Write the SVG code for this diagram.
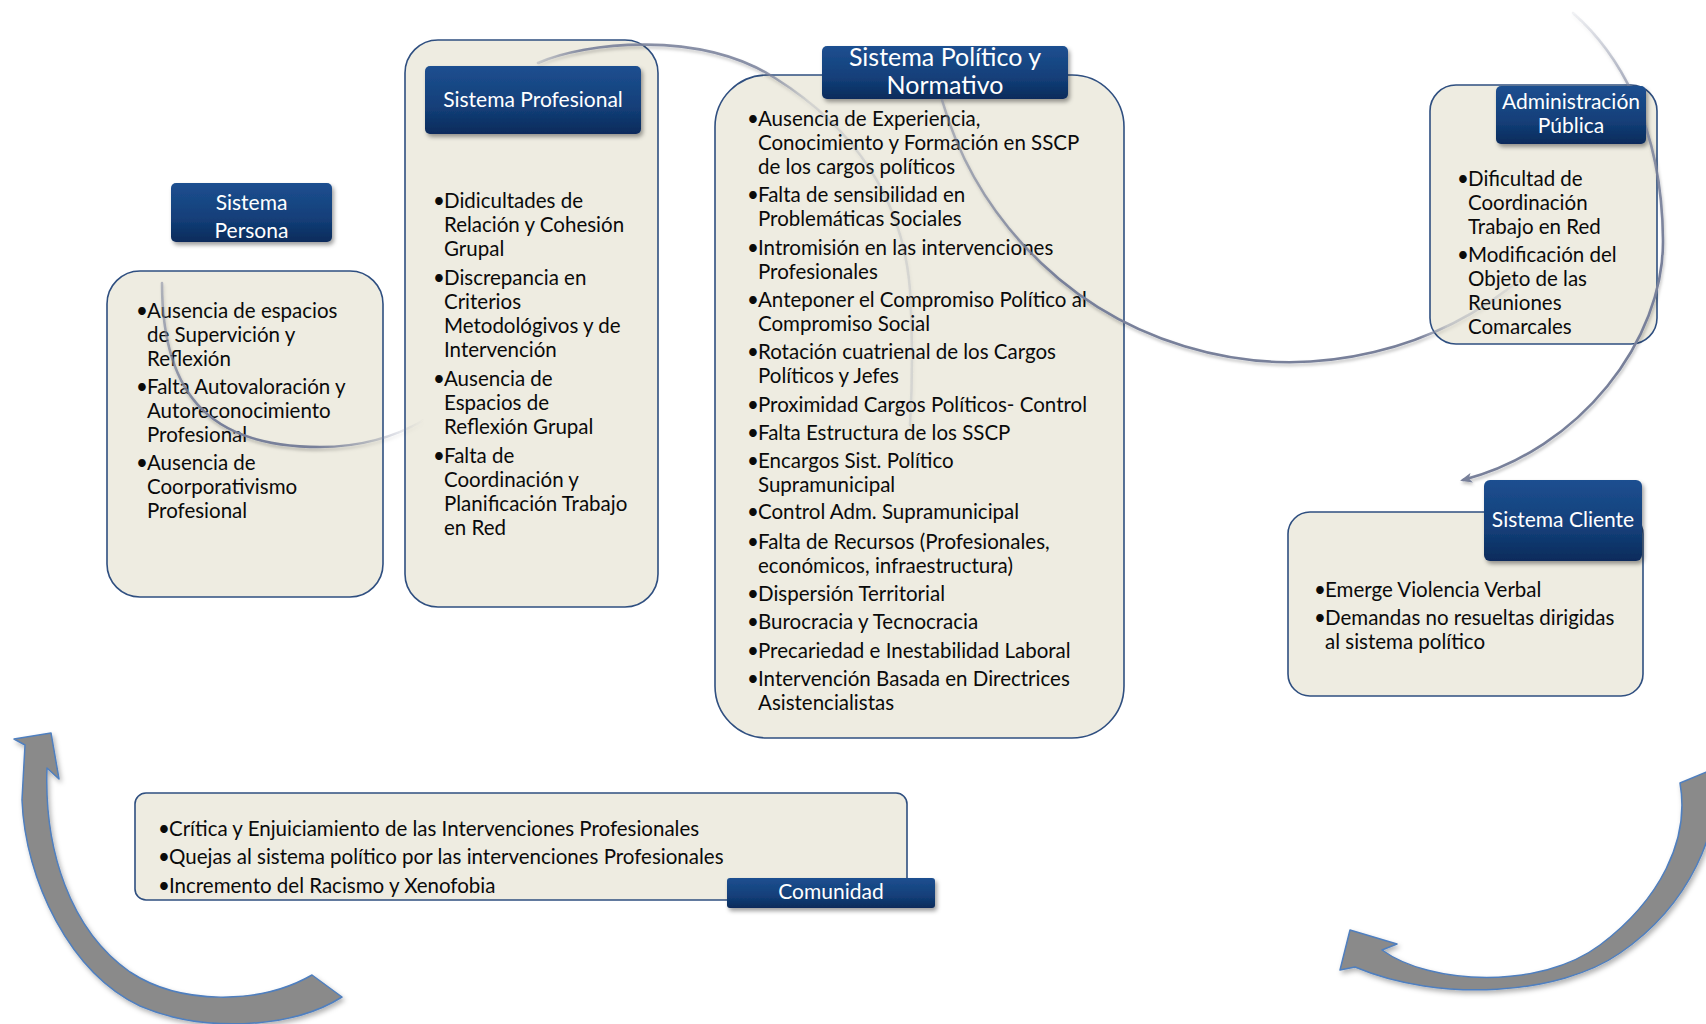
<svg xmlns="http://www.w3.org/2000/svg" width="1706" height="1024" viewBox="0 0 1706 1024">
  <defs>
    <linearGradient id="hdrGrad" x1="0" y1="0" x2="0" y2="1">
      <stop offset="0" stop-color="#1d4f90"/>
      <stop offset="0.6" stop-color="#133f79"/>
      <stop offset="1" stop-color="#0b2b5b"/>
    </linearGradient>
    <filter id="hdrShadow" x="-10%" y="-20%" width="125%" height="150%">
      <feDropShadow dx="2" dy="3" stdDeviation="2.2" flood-color="#000" flood-opacity="0.38"/>
    </filter>
    <filter id="lineShadow" x="-10%" y="-10%" width="120%" height="125%">
      <feDropShadow dx="1" dy="2.5" stdDeviation="1.6" flood-color="#000" flood-opacity="0.25"/>
    </filter>
    <filter id="blockShadow" x="-10%" y="-10%" width="125%" height="125%">
      <feDropShadow dx="2" dy="3" stdDeviation="2.5" flood-color="#000" flood-opacity="0.3"/>
    </filter>
    <!-- fading strokes for the thin curved links -->
    <linearGradient id="fadeA" gradientUnits="userSpaceOnUse" x1="162" y1="283" x2="424" y2="420">
      <stop offset="0" stop-color="#78809a" stop-opacity="0.5"/>
      <stop offset="0.35" stop-color="#78809a" stop-opacity="1"/>
      <stop offset="0.72" stop-color="#78809a" stop-opacity="1"/>
      <stop offset="1" stop-color="#78809a" stop-opacity="0"/>
    </linearGradient>
    <linearGradient id="fadeB" gradientUnits="userSpaceOnUse" x1="538" y1="0" x2="914" y2="0">
      <stop offset="0" stop-color="#78809a" stop-opacity="0.3"/>
      <stop offset="0.12" stop-color="#78809a" stop-opacity="0.9"/>
      <stop offset="0.6" stop-color="#78809a" stop-opacity="0.85"/>
      <stop offset="0.72" stop-color="#78809a" stop-opacity="0.2"/>
      <stop offset="1" stop-color="#78809a" stop-opacity="0.18"/>
    </linearGradient>
    <linearGradient id="fadeC" gradientUnits="userSpaceOnUse" x1="942" y1="0" x2="1523" y2="0">
      <stop offset="0" stop-color="#78809a" stop-opacity="0.5"/>
      <stop offset="0.2" stop-color="#78809a" stop-opacity="1"/>
      <stop offset="0.82" stop-color="#78809a" stop-opacity="1"/>
      <stop offset="0.87" stop-color="#78809a" stop-opacity="0.35"/>
      <stop offset="1" stop-color="#78809a" stop-opacity="0.1"/>
    </linearGradient>
    <linearGradient id="fadeD" gradientUnits="userSpaceOnUse" x1="0" y1="13" x2="0" y2="480">
      <stop offset="0" stop-color="#78809a" stop-opacity="0.1"/>
      <stop offset="0.2" stop-color="#78809a" stop-opacity="0.75"/>
      <stop offset="0.5" stop-color="#78809a" stop-opacity="1"/>
      <stop offset="1" stop-color="#78809a" stop-opacity="1"/>
    </linearGradient>
    <marker id="smallHead" viewBox="0 0 12 10" refX="9" refY="5" markerWidth="12" markerHeight="10" markerUnits="userSpaceOnUse" orient="auto">
      <path d="M0,0 L12,5 L0,10 L3,5 Z" fill="#78809a"/>
    </marker>
    <!-- keeps the right-hand link behind the Administración header -->
    <mask id="behindAdm" maskUnits="userSpaceOnUse" x="0" y="0" width="1706" height="1024">
      <rect x="0" y="0" width="1706" height="1024" fill="#fff"/>
      <rect x="1496" y="86" width="150" height="58" rx="5" fill="#000"/>
    </mask>
  </defs>
  <style>
    .box { fill: #eeece1; stroke: #2f4f80; stroke-width: 1.6; }
    .hdr { fill: url(#hdrGrad); filter: url(#hdrShadow); }
    .t { font-family: Lato, "Noto Sans", "Liberation Sans", sans-serif; font-size: 20.5px; fill: #0a0a0a; }
    .ht { font-family: Lato, "Noto Sans", "Liberation Sans", sans-serif; font-size: 21px; fill: #ffffff; text-anchor: middle; }
    .big { font-size: 25px; }
    .curve { fill: none; stroke-width: 2.6; stroke-linecap: round; filter: url(#lineShadow); }
    .block { fill: #8a8a8a; stroke: #4f7fbf; stroke-width: 1.5; stroke-linejoin: round; filter: url(#blockShadow); }
  </style>

  <rect x="0" y="0" width="1706" height="1024" fill="#ffffff"/>

  <!-- Sistema Persona -->
  <g id="sistema-persona">
    <rect class="box" x="107" y="271" width="276" height="326" rx="33"/>
    <text class="t" x="136" y="318">•</text>
    <text class="t" x="147" y="318">Ausencia de espacios</text>
    <text class="t" x="147" y="342">de Supervición y</text>
    <text class="t" x="147" y="366">Reflexión</text>
    <text class="t" x="136" y="394">•</text>
    <text class="t" x="147" y="394">Falta Autovaloración y</text>
    <text class="t" x="147" y="418">Autoreconocimiento</text>
    <text class="t" x="147" y="442">Profesional</text>
    <text class="t" x="136" y="470">•</text>
    <text class="t" x="147" y="470">Ausencia de</text>
    <text class="t" x="147" y="494">Coorporativismo</text>
    <text class="t" x="147" y="518">Profesional</text>
    <rect class="hdr" x="171" y="183" width="161" height="59" rx="5"/>
    <text class="ht" x="251.5" y="210">Sistema</text>
    <text class="ht" x="251.5" y="238">Persona</text>
  </g>

  <!-- Sistema Profesional -->
  <g id="sistema-profesional">
    <rect class="box" x="405" y="40" width="253" height="567" rx="33"/>
    <rect class="hdr" x="425" y="66" width="216" height="68" rx="5"/>
    <text class="ht" x="533" y="107">Sistema Profesional</text>
    <text class="t" x="433" y="208">•</text>
    <text class="t" x="444" y="208">Didicultades de</text>
    <text class="t" x="444" y="232">Relación y Cohesión</text>
    <text class="t" x="444" y="256">Grupal</text>
    <text class="t" x="433" y="285">•</text>
    <text class="t" x="444" y="285">Discrepancia en</text>
    <text class="t" x="444" y="309">Criterios</text>
    <text class="t" x="444" y="333">Metodológivos y de</text>
    <text class="t" x="444" y="357">Intervención</text>
    <text class="t" x="433" y="386">•</text>
    <text class="t" x="444" y="386">Ausencia de</text>
    <text class="t" x="444" y="410">Espacios de</text>
    <text class="t" x="444" y="434">Reflexión Grupal</text>
    <text class="t" x="433" y="463">•</text>
    <text class="t" x="444" y="463">Falta de</text>
    <text class="t" x="444" y="487">Coordinación y</text>
    <text class="t" x="444" y="511">Planificación Trabajo</text>
    <text class="t" x="444" y="535">en Red</text>
  </g>

  <!-- Sistema Político y Normativo -->
  <g id="sistema-politico">
    <rect class="box" x="715" y="75" width="409" height="663" rx="52"/>
    <text class="t" x="747" y="126">•</text>
    <text class="t" x="758" y="126">Ausencia de Experiencia,</text>
    <text class="t" x="758" y="150">Conocimiento y Formación en SSCP</text>
    <text class="t" x="758" y="174">de los cargos políticos</text>
    <text class="t" x="747" y="202">•</text>
    <text class="t" x="758" y="202">Falta de sensibilidad en</text>
    <text class="t" x="758" y="226">Problemáticas Sociales</text>
    <text class="t" x="747" y="255">•</text>
    <text class="t" x="758" y="255">Intromisión en las intervenciones</text>
    <text class="t" x="758" y="279">Profesionales</text>
    <text class="t" x="747" y="307">•</text>
    <text class="t" x="758" y="307">Anteponer el Compromiso Político al</text>
    <text class="t" x="758" y="331">Compromiso Social</text>
    <text class="t" x="747" y="359">•</text>
    <text class="t" x="758" y="359">Rotación cuatrienal de los Cargos</text>
    <text class="t" x="758" y="383">Políticos y Jefes</text>
    <text class="t" x="747" y="412">•</text>
    <text class="t" x="758" y="412">Proximidad Cargos Políticos- Control</text>
    <text class="t" x="747" y="440">•</text>
    <text class="t" x="758" y="440">Falta Estructura de los SSCP</text>
    <text class="t" x="747" y="468">•</text>
    <text class="t" x="758" y="468">Encargos Sist. Político</text>
    <text class="t" x="758" y="492">Supramunicipal</text>
    <text class="t" x="747" y="519">•</text>
    <text class="t" x="758" y="519">Control Adm. Supramunicipal</text>
    <text class="t" x="747" y="549">•</text>
    <text class="t" x="758" y="549">Falta de Recursos (Profesionales,</text>
    <text class="t" x="758" y="573">económicos, infraestructura)</text>
    <text class="t" x="747" y="601">•</text>
    <text class="t" x="758" y="601">Dispersión Territorial</text>
    <text class="t" x="747" y="629">•</text>
    <text class="t" x="758" y="629">Burocracia y Tecnocracia</text>
    <text class="t" x="747" y="658">•</text>
    <text class="t" x="758" y="658">Precariedad e Inestabilidad Laboral</text>
    <text class="t" x="747" y="686">•</text>
    <text class="t" x="758" y="686">Intervención Basada en Directrices</text>
    <text class="t" x="758" y="710">Asistencialistas</text>
    <rect class="hdr" x="822" y="46" width="246" height="53" rx="5"/>
    <text class="ht big" x="945" y="66">Sistema Político y</text>
    <text class="ht big" x="945" y="94">Normativo</text>
  </g>

  <!-- Administración Pública -->
  <g id="administracion-publica">
    <rect class="box" x="1430" y="85" width="227" height="259" rx="26"/>
    <rect class="hdr" x="1496" y="86" width="150" height="58" rx="5"/>
    <text class="ht" x="1571" y="109">Administración</text>
    <text class="ht" x="1571" y="133">Pública</text>
    <text class="t" x="1457" y="186">•</text>
    <text class="t" x="1468" y="186">Dificultad de</text>
    <text class="t" x="1468" y="210">Coordinación</text>
    <text class="t" x="1468" y="234">Trabajo en Red</text>
    <text class="t" x="1457" y="262">•</text>
    <text class="t" x="1468" y="262">Modificación del</text>
    <text class="t" x="1468" y="286">Objeto de las</text>
    <text class="t" x="1468" y="310">Reuniones</text>
    <text class="t" x="1468" y="334">Comarcales</text>
  </g>

  <!-- Sistema Cliente -->
  <g id="sistema-cliente">
    <rect class="box" x="1288" y="512" width="355" height="184" rx="22"/>
    <rect class="hdr" x="1484" y="480" width="158" height="81" rx="6"/>
    <text class="ht" x="1563" y="527">Sistema Cliente</text>
    <text class="t" x="1314" y="597">•</text>
    <text class="t" x="1325" y="597">Emerge Violencia Verbal</text>
    <text class="t" x="1314" y="625">•</text>
    <text class="t" x="1325" y="625">Demandas no resueltas dirigidas</text>
    <text class="t" x="1325" y="649">al sistema político</text>
  </g>

  <!-- Comunidad -->
  <g id="comunidad">
    <rect class="box" x="135" y="793" width="772" height="107" rx="11"/>
    <text class="t" x="158" y="836">•</text>
    <text class="t" x="169" y="836">Crítica y Enjuiciamiento de las Intervenciones Profesionales</text>
    <text class="t" x="158" y="864">•</text>
    <text class="t" x="169" y="864">Quejas al sistema político por las intervenciones Profesionales</text>
    <text class="t" x="158" y="893">•</text>
    <text class="t" x="169" y="893">Incremento del Racismo y Xenofobia</text>
    <rect class="hdr" x="727" y="878" width="208" height="30" rx="3"/>
    <text class="ht" x="831" y="899">Comunidad</text>
  </g>

  <!-- links between the systems -->
  <g id="connectors">
    <path class="curve" stroke="url(#fadeA)" d="M162,283 C162,400 215,447 320,447 C360,447 395,437 424,420"/>
    <path class="curve" stroke="url(#fadeB)" d="M538,63 C585,42 700,30 775,78 C855,128 903,200 910,290 C913,340 912,390 910,425"/>
    <path class="curve" stroke="url(#fadeC)" d="M942,100 A362,362 0 0 0 1523,277"/>
    <path class="curve" stroke="url(#fadeD)" mask="url(#behindAdm)" marker-end="url(#smallHead)" d="M1573,13 C1615,50 1662,120 1663,240 C1664,340 1580,450 1463,480"/>
    <path class="block" d="M51,733 L59,779 L47,768 C44,850 70,930 130,972 C180,1005 260,1005 312,975 L342,997 C290,1030 200,1032 140,1006 C70,973 25,880 22,800 L25,745 L14,739 Z"/>
    <path class="block" d="M1350,930 L1397,944 L1382,950 C1430,985 1540,990 1600,945 C1660,900 1690,840 1680,783 L1716,768 C1722,830 1690,905 1620,953 C1560,995 1440,1003 1355,967 L1340,970 Z"/>
  </g>
</svg>
